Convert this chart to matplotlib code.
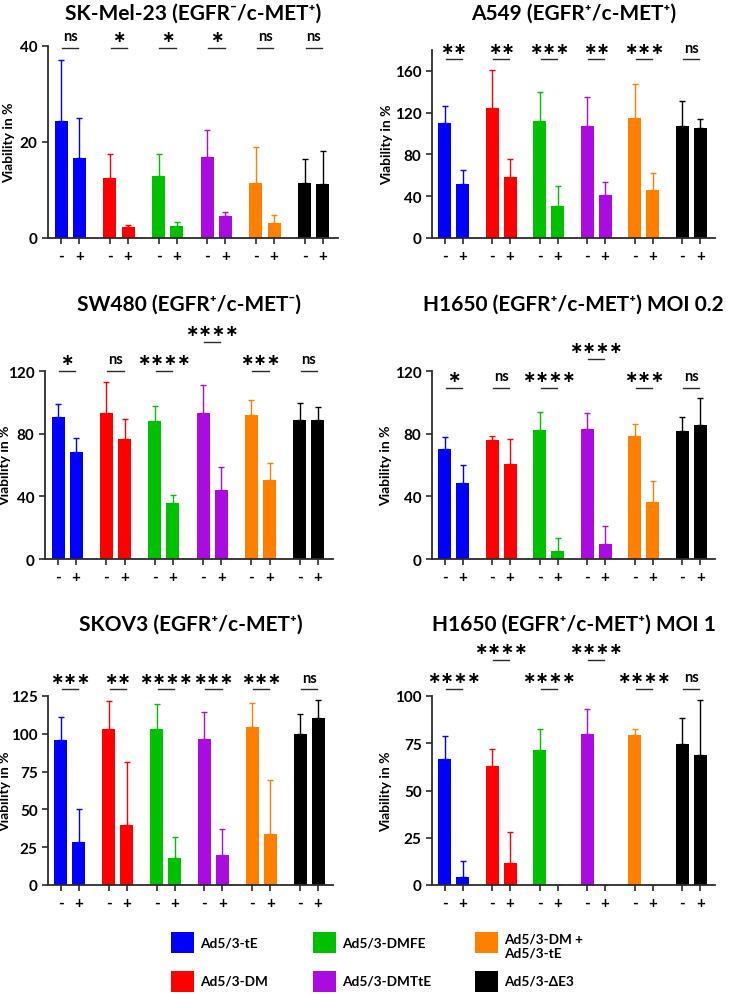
import matplotlib
matplotlib.use("Agg")
import matplotlib.pyplot as plt
from matplotlib.patches import Rectangle
import numpy as np

W, H = 737, 995
FONT = ["Lato", "DejaVu Sans"]
STAR = ["DejaVu Sans"]
plt.rcParams["font.family"] = FONT
plt.rcParams["font.weight"] = "bold"
plt.rcParams["axes.labelweight"] = "bold"

AXC = "#2b2b2b"

viruses = ["Ad5/3-tE", "Ad5/3-DM", "Ad5/3-DMFE", "Ad5/3-DMTtE",
           "Ad5/3-DM +\nAd5/3-tE", "Ad5/3-ΔE3"]
colors = ["#0000ff", "#ff0000", "#00c000", "#aa0ce0", "#ff8000", "#000000"]
conditions = ["-", "+"]

# SK-Mel-23
sk_minus = [24.4, 12.5, 12.9, 16.9, 11.5, 11.4]
sk_minus_err = [12.7, 4.9, 4.5, 5.5, 7.4, 5.0]
sk_plus = [16.6, 2.2, 2.5, 4.5, 3.2, 11.2]
sk_plus_err = [8.4, 0.6, 0.8, 1.0, 1.5, 7.0]
sk_sig = ["ns", "*", "*", "*", "ns", "ns"]

# A549
a549_minus = [110.5, 124.6, 112.1, 107.6, 115.3, 107.3]
a549_minus_err = [15.7, 36.7, 27.5, 27.2, 32.6, 24.3]
a549_plus = [52.1, 58.1, 30.7, 41.5, 46.0, 105.1]
a549_plus_err = [13.4, 17.9, 19.4, 12.5, 16.0, 8.6]
a549_sig = ["**", "**", "***", "**", "***", "ns"]

# SW480
sw_minus = [90.5, 93.5, 88.1, 93.5, 91.8, 88.8]
sw_minus_err = [8.7, 19.3, 9.8, 17.6, 9.9, 10.6]
sw_plus = [68.0, 76.3, 35.9, 44.0, 50.3, 88.8]
sw_plus_err = [9.5, 12.9, 5.1, 14.8, 11.1, 8.1]
sw_sig = ["*", "ns", "****", "****", "***", "ns"]

# H1650 MOI 0.2
h02_minus = [70.5, 76.0, 82.2, 82.8, 78.2, 81.4]
h02_minus_err = [7.5, 2.6, 11.7, 10.4, 8.0, 9.1]
h02_plus = [48.4, 60.7, 4.9, 9.6, 36.7, 85.4]
h02_plus_err = [11.7, 16.0, 8.3, 11.4, 13.2, 17.2]
h02_sig = ["*", "ns", "****", "****", "***", "ns"]

# SKOV3
skov_minus = [96.2, 103.5, 102.9, 96.7, 104.6, 100.0]
skov_minus_err = [15.1, 18.0, 17.0, 17.5, 16.0, 13.3]
skov_plus = [28.5, 39.8, 17.7, 19.9, 33.6, 110.4]
skov_plus_err = [21.5, 41.8, 14.2, 17.3, 36.1, 11.9]
skov_sig = ["***", "**", "****", "***", "***", "ns"]

# H1650 MOI 1
h1_minus = [66.7, 63.2, 71.2, 79.8, 79.5, 74.5]
h1_minus_err = [12.2, 9.0, 11.1, 13.1, 2.8, 13.6]
h1_plus = [4.4, 11.5, 0.0, 0.0, 0.0, 68.8]
h1_plus_err = [8.3, 16.8, 0.0, 0.0, 0.0, 29.1]
h1_sig = ["****", "****", "****", "****", "****", "ns"]

# which comparisons are drawn on a raised level
sk_high = [0, 0, 0, 0, 0, 0]
a549_high = [0, 0, 0, 0, 0, 0]
sw_high = [0, 0, 0, 1, 0, 0]
h02_high = [0, 0, 0, 1, 0, 0]
skov_high = [0, 0, 0, 0, 0, 0]
h1_high = [0, 1, 0, 1, 0, 0]

panels = [
    # title, minus, minus err, plus, plus err, sig, high, yticks, ymax,
    # bracket y (low, high), axes box px (left, top, right, bottom), title y px, ylabel x px
    ("SK-Mel-23 (EGFR⁻/c-MET⁺)", sk_minus, sk_minus_err, sk_plus, sk_plus_err,
     sk_sig, sk_high, [0, 20, 40], 40, (39.6, 0), (48, 47, 338, 239), 14, 15),
    ("A549 (EGFR⁺/c-MET⁺)", a549_minus, a549_minus_err, a549_plus, a549_plus_err,
     a549_sig, a549_high, [0, 40, 80, 120, 160], 180, (171, 0), (432, 51, 715, 239), 14, 393),
    ("SW480 (EGFR⁺/c-MET⁻)", sw_minus, sw_minus_err, sw_plus, sw_plus_err,
     sw_sig, sw_high, [0, 40, 80, 120], 120, (120, 138.7), (45, 372, 333, 560), 305, 11),
    ("H1650 (EGFR⁺/c-MET⁺) MOI 0.2", h02_minus, h02_minus_err, h02_plus, h02_plus_err,
     h02_sig, h02_high, [0, 40, 80, 120], 120, (109.4, 127.9), (432, 372, 715, 560), 305, 392),
    ("SKOV3 (EGFR⁺/c-MET⁺)", skov_minus, skov_minus_err, skov_plus, skov_plus_err,
     skov_sig, skov_high, [0, 25, 50, 75, 100, 125], 125, (129.4, 0), (48, 697, 333, 886), 625, 11),
    ("H1650 (EGFR⁺/c-MET⁺) MOI 1", h1_minus, h1_minus_err, h1_plus, h1_plus_err,
     h1_sig, h1_high, [0, 25, 50, 75, 100], 100, (103.9, 119.3), (432, 697, 715, 886), 625, 392),
]

GSTEP = 2.67   # group spacing in units of the -/+ spacing
BW = 0.72

fig = plt.figure(figsize=(W / 100, H / 100), dpi=100)

for (title, mi, mie, pl, ple, sig, high, yt, ymax, (ly, hy),
     (l, t, r, b), ty, yl) in panels:
    ax = fig.add_axes([l / W, 1 - b / H, (r - l) / W, (b - t) / H])
    xm = np.arange(len(viruses)) * GSTEP
    xp = xm + 1
    for i, c in enumerate(colors):
        ax.bar([xm[i], xp[i]], [mi[i], pl[i]], width=BW, color=c,
               yerr=[[0, 0], [mie[i], ple[i]]], ecolor=c,
               error_kw=dict(lw=1.0, capsize=2.5, capthick=1.0), zorder=2)
        yy = hy if high[i] else ly
        cx = (xm[i] + xp[i]) / 2
        ax.plot([cx - 0.45, cx + 0.45], [yy, yy], color=AXC, lw=1.0,
                clip_on=False)
        if sig[i] == "ns":
            ax.annotate("ns", (cx, yy), xytext=(0, 8.5), textcoords="offset points",
                        ha="center", va="center", fontsize=10.5,
                        fontweight="bold", annotation_clip=False)
        else:
            ax.annotate("∗" * len(sig[i]), (cx, yy), xytext=(0, 8),
                        textcoords="offset points", ha="center", va="center",
                        fontsize=11.5, fontweight="bold", family=STAR,
                        annotation_clip=False)
    ax.set_xlim(-0.72, xp[-1] + 0.83)
    ax.set_ylim(0, ymax)
    ax.set_yticks(yt)
    ticks = np.ravel(np.column_stack([xm, xp]))
    ax.set_xticks(ticks)
    ax.set_xticklabels(conditions * len(viruses))
    ax.tick_params(axis="both", colors=AXC, width=1.2, length=4,
                   labelcolor="black", labelsize=11)
    ax.tick_params(axis="x", pad=4)
    for lab in ax.get_xticklabels() + ax.get_yticklabels():
        lab.set_fontweight("bold")
    for s in ("top", "right"):
        ax.spines[s].set_visible(False)
    for s in ("left", "bottom"):
        ax.spines[s].set_color(AXC)
        ax.spines[s].set_linewidth(1.3)
    ax.set_ylabel("Viability in %", fontsize=10, fontweight="bold")
    ax.yaxis.set_label_coords((yl - l) / (r - l), 0.5)
    fig.text((l + r) / 2 / W, 1 - ty / H, title, ha="center", va="center",
             fontsize=15, fontweight="bold")

# legend drawn in pixel space
lg = fig.add_axes([0, 0, 1, 1])
lg.set_xlim(0, W)
lg.set_ylim(H, 0)
lg.axis("off")
col_x = [171, 313, 475]
row_y = [943, 982]
for i, (name, c) in enumerate(zip(viruses, colors)):
    x = col_x[i // 2]
    y = row_y[i % 2]
    lg.add_patch(Rectangle((x, y - 10), 23, 21, facecolor=c, edgecolor="none"))
    lg.text(x + 29, y + (4 if "\n" in name else 0), name, ha="left",
            va="center", fontsize=9.8, fontweight="bold", linespacing=1.2)

fig.savefig("out.png", dpi=100)
